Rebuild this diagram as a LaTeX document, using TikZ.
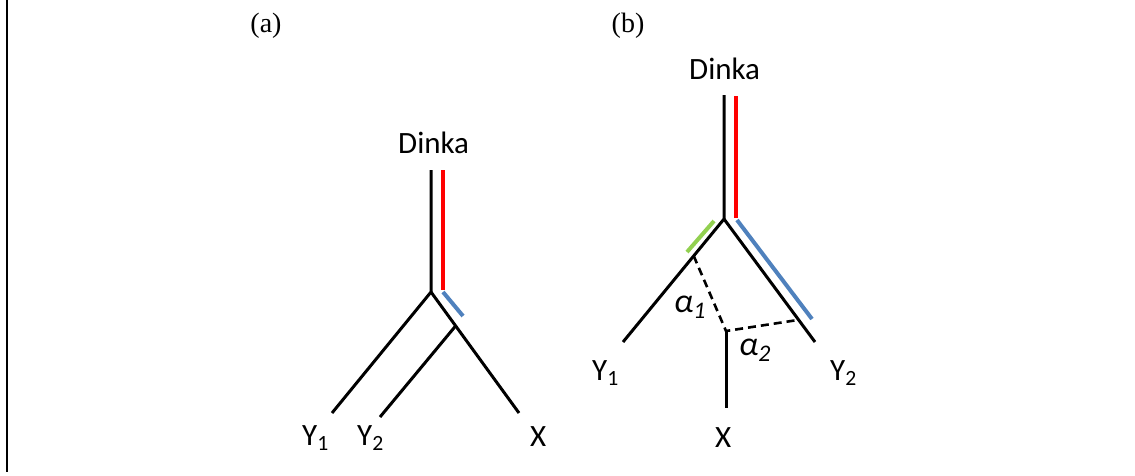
\documentclass[tikz,border=0pt]{standalone}
\usepackage{fontspec}
\setmainfont{Liberation Serif}
\newfontfamily\calib{Carlito}
\usetikzlibrary{calc}

\tikzset{
    branch/.style={line width=3pt},
    painted/.style={line width=4pt},
    guide/.style={line width=2.6pt, dash pattern=on 8pt off 5pt},
    lab/.style={font=\calib\fontsize{31}{36}\selectfont, inner sep=0pt, anchor=base west},
    greek/.style={font=\calib\fontsize{34}{38}\selectfont\itshape, inner sep=0pt, anchor=base west},
    panel/.style={font=\fontsize{28}{32}\selectfont, inner sep=0pt, anchor=base}
}

\begin{document}
\begin{tikzpicture}[x=1pt, y=-1pt]
    \useasboundingbox (0,0) rectangle (1135,475);

    % frame line on the left
    \coordinate (FT) at (7,0);
    \coordinate (FB) at (7,472);
    \draw[line width=2.8pt] (FT) -- (FB);

    \node[panel] (pa) at (266,32) {(a)};
    \node[panel] (pb) at (628,32) {(b)};

    % tree (a)
    \coordinate (Ta) at (431,170);
    \coordinate (Ra) at (431,292);
    \coordinate (Y1a) at (332,413);
    \coordinate (Xa) at (519,413);
    \coordinate (Ma) at ($(Ra)!0.28!(Xa)$);
    \coordinate (Y2a) at (380,417);

    \draw[branch] (Ta) -- (Ra) -- (Y1a);
    \draw[branch] (Ra) -- (Xa);
    \draw[branch] (Ma) -- (Y2a);

    \coordinate (RTa) at (443,170);
    \coordinate (RBa) at (443,290);
    \coordinate (BEa) at (463,316);
    \draw[painted, red] (RTa) -- (RBa);
    \draw[painted, color={rgb,255:red,79;green,129;blue,189}] (443,292) -- (BEa);

    \node[lab] (dinkaa) at (398,153) {Dinka};
    \node[lab] (y1a) at (302,445) {Y\textsubscript{1}};
    \node[lab] (y2a) at (357,445) {Y\textsubscript{2}};
    \node[lab] (xa) at (530,446) {X};

    % tree (b)
    \coordinate (Tb) at (724,95);
    \coordinate (Rb) at (724,219);
    \coordinate (Y1b) at (623,342);
    \coordinate (Y2b) at (815,342);
    \coordinate (Cb) at (726,331);
    \coordinate (Xb) at (726,408);

    \draw[branch] (Tb) -- (Rb) -- (Y1b);
    \draw[branch] (Rb) -- (Y2b);
    \draw[branch] (Cb) -- (Xb);

    \draw[painted, red] (736,96) -- (736,218);
    \draw[painted, color={rgb,255:red,79;green,129;blue,189}] (737,220) -- (812,319);
    \draw[painted, color={rgb,255:red,146;green,208;blue,80}] (714,221) -- (687,252);

    \draw[guide] ($(Rb)!0.30!(Y1b)$) -- (Cb) -- ($(Rb)!0.82!(Y2b)$);

    \node[lab] (dinkab) at (689,79) {Dinka};
    \node[lab] (y1b) at (592,380) {Y\textsubscript{1}};
    \node[lab] (y2b) at (830,380) {Y\textsubscript{2}};
    \node[lab] (xb) at (715,447) {X};
    \node[greek] (al1) at (674,312) {α\textsubscript{1}};
    \node[greek] (al2) at (739,355) {α\textsubscript{2}};
\end{tikzpicture}
\end{document}
